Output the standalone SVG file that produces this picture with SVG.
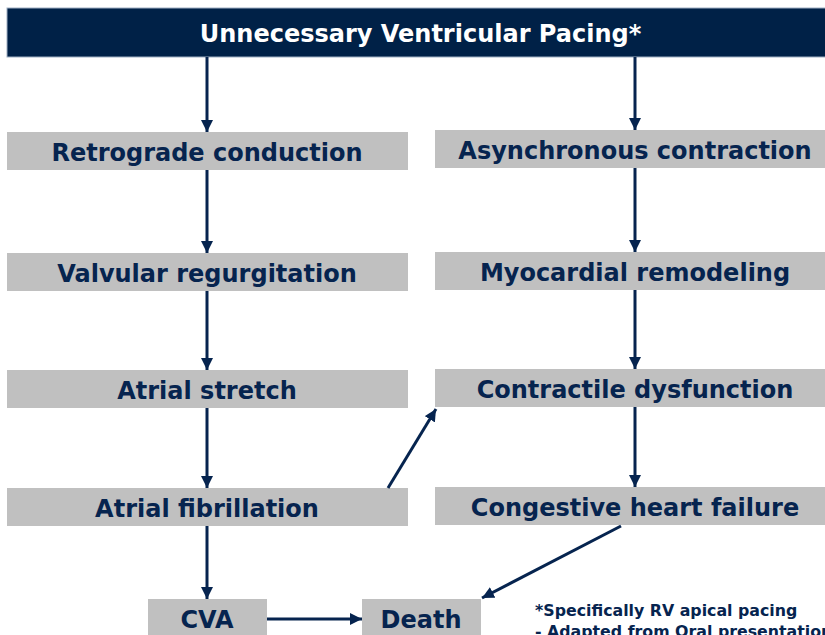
<svg xmlns="http://www.w3.org/2000/svg" width="825" height="635" viewBox="0 0 825 635">
<defs>
<style>
.box{fill:#c0c0c0}
.lbl{font-family:"DejaVu Sans",Verdana,sans-serif;font-weight:bold;font-size:24px;fill:#06244f;text-anchor:middle}
.hdr{font-family:"DejaVu Sans",Verdana,sans-serif;font-weight:bold;font-size:24px;fill:#ffffff;text-anchor:middle}
.note{font-family:"DejaVu Sans",Verdana,sans-serif;font-weight:bold;font-size:15.8px;fill:#06244f}
.conn{stroke:#06244f;stroke-width:3;fill:none;marker-end:url(#ah)}
</style>
<marker id="ah" viewBox="0 0 10 10" refX="10" refY="5" markerWidth="4" markerHeight="4" orient="auto" markerUnits="strokeWidth">
<path d="M0,0 L10,5 L0,10 z" fill="#06244f"/>
</marker>
</defs>
<rect width="825" height="635" fill="#ffffff"/>
<g id="header">
<rect x="7" y="8" width="830" height="49" fill="#002147" stroke="#9fb0c4" stroke-width="1"/>
<text class="hdr" x="420.5" y="42">Unnecessary Ventricular Pacing*</text>
</g>
<g id="retrograde"><rect class="box" x="7" y="132" width="401" height="38"/><text class="lbl" x="207" y="161">Retrograde conduction</text></g>
<g id="valvular"><rect class="box" x="7" y="253" width="401" height="38"/><text class="lbl" x="207" y="282">Valvular regurgitation</text></g>
<g id="stretch"><rect class="box" x="7" y="370" width="401" height="38"/><text class="lbl" x="207" y="399">Atrial stretch</text></g>
<g id="afib"><rect class="box" x="7" y="488" width="401" height="38"/><text class="lbl" x="207" y="516.5">Atrial fibrillation</text></g>
<g id="async"><rect class="box" x="435" y="130" width="400" height="38"/><text class="lbl" x="635" y="159">Asynchronous contraction</text></g>
<g id="remodel"><rect class="box" x="435" y="252" width="400" height="38"/><text class="lbl" x="635" y="281">Myocardial remodeling</text></g>
<g id="dysfunction"><rect class="box" x="435" y="369" width="400" height="38"/><text class="lbl" x="635" y="398">Contractile dysfunction</text></g>
<g id="chf"><rect class="box" x="435" y="487" width="400" height="38"/><text class="lbl" x="635" y="515.5">Congestive heart failure</text></g>
<g id="cva"><rect class="box" x="148" y="599" width="119" height="40"/><text class="lbl" x="207" y="628">CVA</text></g>
<g id="death"><rect class="box" x="362" y="599" width="119" height="40"/><text class="lbl" x="421" y="628">Death</text></g>
<g id="connectors">
<line class="conn" x1="207" y1="57" x2="207" y2="132"/>
<line class="conn" x1="635" y1="57" x2="635" y2="130"/>
<line class="conn" x1="207" y1="170" x2="207" y2="253"/>
<line class="conn" x1="635" y1="168" x2="635" y2="252"/>
<line class="conn" x1="207" y1="291" x2="207" y2="370"/>
<line class="conn" x1="635" y1="290" x2="635" y2="369"/>
<line class="conn" x1="207" y1="408" x2="207" y2="488"/>
<line class="conn" x1="635" y1="407" x2="635" y2="487"/>
<line class="conn" x1="207" y1="526" x2="207" y2="599"/>
<line class="conn" x1="388" y1="488" x2="436" y2="409"/>
<line class="conn" x1="621" y1="526" x2="482" y2="598"/>
<line class="conn" x1="267" y1="619" x2="362" y2="619"/>
</g>
<g id="footnote">
<text class="note" x="535" y="616">*Specifically RV apical pacing</text>
<text class="note" x="535" y="636.5">- Adapted from Oral presentation</text>
</g>
</svg>
